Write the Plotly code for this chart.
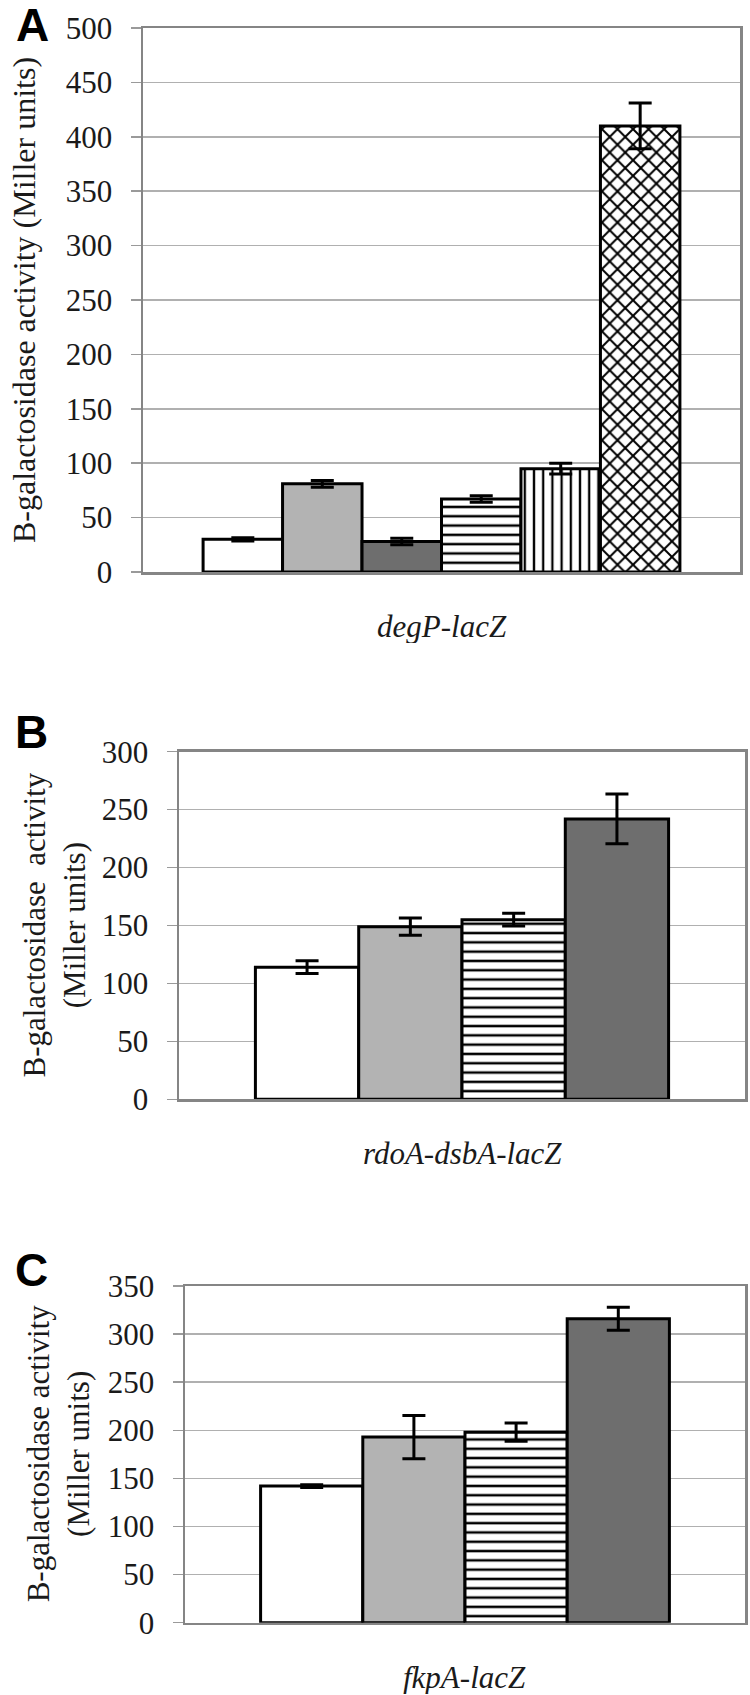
import plotly.graph_objects as go

# ---------------- data ----------------
panel_letters = ["A", "B", "C"]
panel_genes = ["degP-lacZ", "rdoA-dsbA-lacZ", "fkpA-lacZ"]

a_values = [30, 81, 28, 67, 95, 410]
a_errors = [1.5, 3, 3, 3, 5, 21]
a_styles = ["white", "lightgray", "darkgray", "hlines", "vlines", "cross"]

b_values = [114, 149, 155, 242]
b_errors = [5.5, 7.5, 5.5, 21.5]
b_styles = ["white", "lightgray", "hlines", "darkgray"]

c_values = [142, 193, 198, 316]
c_errors = [1.5, 22.5, 9.5, 12]
c_styles = ["white", "lightgray", "hlines", "darkgray"]

y_max = [500, 300, 350]
y_titles = ["B-galactosidase activity (Miller units)",
            "B-galactosidase  activity<br>(Miller units)",
            "B-galactosidase activity<br>(Miller units)"]

# ---------------- styling ----------------
SERIF = "Liberation Serif, Times New Roman, serif"
SANS = "Liberation Sans, Arial, sans-serif"
W, H = 750, 1695
FS = 31
TITLE_FS = [32, 31, 31]


def marker_for(style):
    base = dict(line=dict(color="black", width=3))
    if style == "white":
        base["color"] = "white"
    elif style == "lightgray":
        base["color"] = "#b3b3b3"
    elif style == "darkgray":
        base["color"] = "#6e6e6e"
    elif style == "hlines":
        base["color"] = "white"
        base["pattern"] = dict(shape="-", fgcolor="black", bgcolor="white",
                               size=9.3, solidity=0.27, fillmode="replace")
    elif style == "vlines":
        base["color"] = "white"
        base["pattern"] = dict(shape="|", fgcolor="black", bgcolor="white",
                               size=9.2, solidity=0.25, fillmode="replace")
    elif style == "cross":
        base["color"] = "white"
        base["pattern"] = dict(shape="x", fgcolor="black", bgcolor="white",
                               size=11, solidity=0.33, fillmode="replace")
    return base


panels = [
    dict(values=a_values, errors=a_errors, styles=a_styles,
         xdom=(143, 740), ytop=28, ybot=572, xrange=[-0.457, 0.457], ytshift=-119),
    dict(values=b_values, errors=b_errors, styles=b_styles,
         xdom=(179, 745), ytop=751.7, ybot=1099.3, xrange=[-0.5, 0.5], ytshift=-125),
    dict(values=c_values, errors=c_errors, styles=c_styles,
         xdom=(185, 745), ytop=1286, ybot=1622.7, xrange=[-0.5, 0.5], ytshift=-127),
]
letter_pos = [(32, 25), (31, 732), (31, 1270)]

fig = go.Figure()
annotations = []

for i, p in enumerate(panels):
    sfx = "" if i == 0 else str(i + 1)
    xa, ya = "x" + sfx, "y" + sfx
    for j, (v, e, s) in enumerate(zip(p["values"], p["errors"], p["styles"])):
        fig.add_trace(go.Bar(
            x=[panel_genes[i]], y=[v],
            error_y=dict(type="data", array=[e], visible=True,
                         color="black", thickness=3, width=11.5),
            marker=marker_for(s),
            xaxis=xa, yaxis=ya, showlegend=False,
            name=f"{panel_genes[i]} {j + 1}",
        ))

    x0, x1 = p["xdom"]
    fig.layout["xaxis" + sfx] = dict(
        domain=[x0 / W, x1 / W], anchor=ya, type="category",
        range=p["xrange"], showticklabels=False, ticks="",
        showgrid=False, showline=True, mirror=True, automargin=False,
        linecolor="#858585", linewidth=2.5, zeroline=False, fixedrange=True,
    )
    fig.layout["yaxis" + sfx] = dict(
        domain=[1 - p["ybot"] / H, 1 - p["ytop"] / H], anchor=xa,
        range=[0, y_max[i]], dtick=50, tick0=0, automargin=False,
        showgrid=True, gridcolor="#b0b0b0", gridwidth=1.6,
        showline=True, mirror=True, linecolor="#858585", linewidth=2.5,
        ticks="outside", ticklen=10, tickwidth=1.5, tickcolor="#9a9a9a",
        ticklabelstandoff=12,
        tickfont=dict(family=SERIF, size=FS, color="#1a1a1a"),
        zeroline=False, fixedrange=True,
    )

    # x label (gene)
    annotations.append(dict(
        text=f"<i>{panel_genes[i]}</i>", xref=xa + " domain", yref=ya + " domain",
        x=0.5, y=0, yshift=-54, xanchor="center", yanchor="middle", height=34,
        showarrow=False, font=dict(family=SERIF, size=FS, color="#1a1a1a"),
    ))
    # y title
    annotations.append(dict(
        text=y_titles[i], xref=xa + " domain", yref=ya + " domain",
        x=0, y=0.5, xshift=p["ytshift"], xanchor="center", yanchor="middle",
        textangle=-90, showarrow=False,
        font=dict(family=SERIF, size=TITLE_FS[i], color="#1a1a1a"),
    ))
    # panel letter
    lx, ly = letter_pos[i]
    annotations.append(dict(
        text=f"<b>{panel_letters[i]}</b>", xref="paper", yref="paper",
        x=lx / W, y=1 - ly / H, xanchor="center", yanchor="middle", height=42,
        showarrow=False, font=dict(family=SANS, size=46, color="black"),
    ))

fig.update_layout(
    template="none",
    width=W, height=H,
    margin=dict(l=0, r=0, t=0, b=0, autoexpand=False),
    paper_bgcolor="white", plot_bgcolor="white",
    barmode="group", bargap=0.27, bargroupgap=0,
    annotations=annotations,
    showlegend=False,
)

fig.write_html(
    "out.html",
    config={"displayModeBar": False, "staticPlot": True},
    post_script="document.body.style.margin='0';document.body.style.overflow='hidden';",
)
